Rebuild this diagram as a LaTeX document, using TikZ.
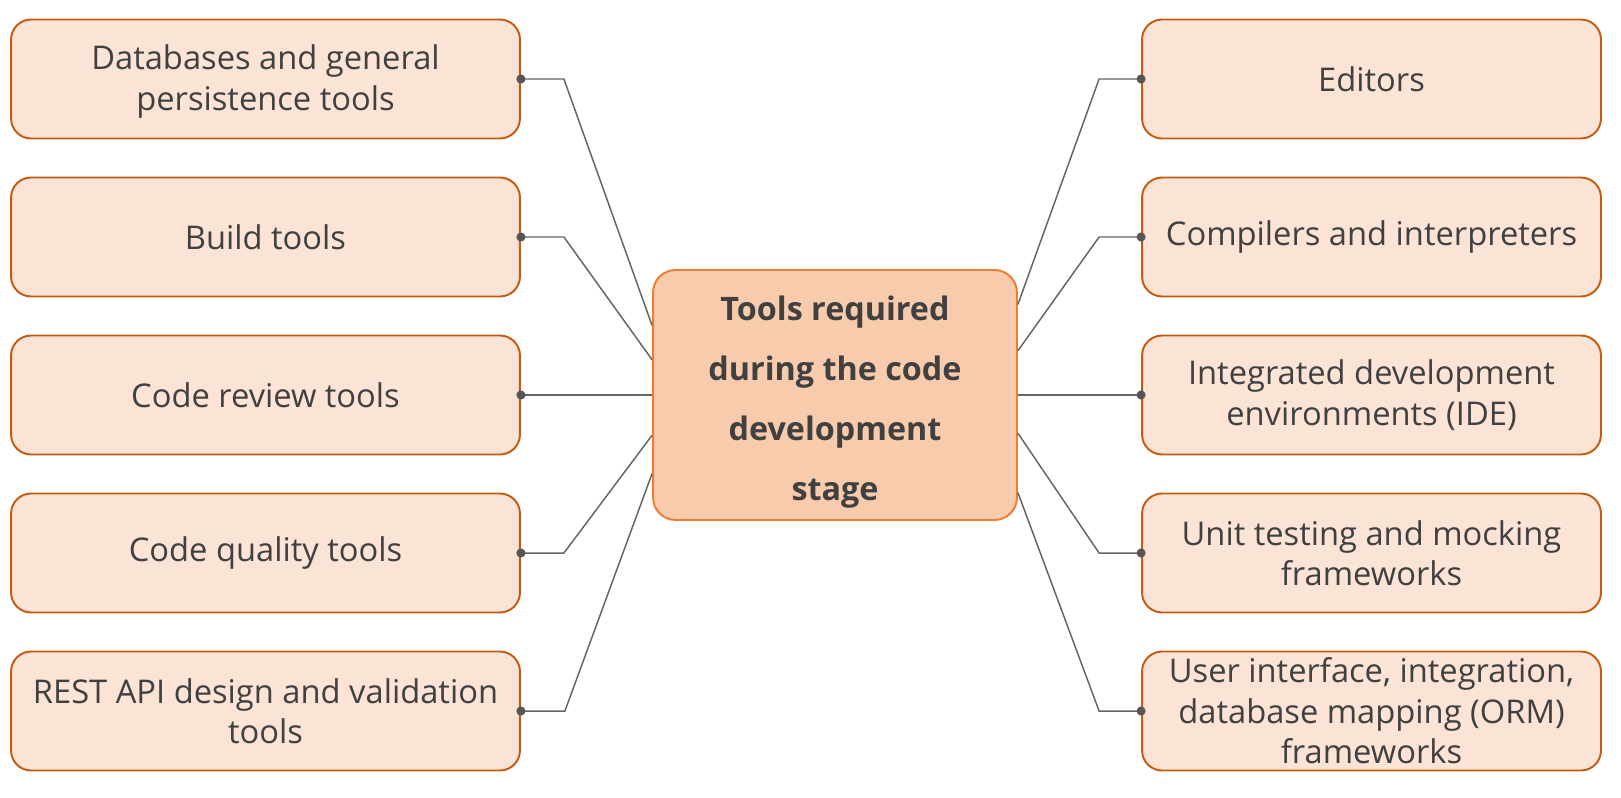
\documentclass[tikz,border=0pt]{standalone}
\usepackage{fontspec}
\setmainfont{Open Sans}
\usetikzlibrary{positioning}
\usetikzlibrary{calc}

\definecolor{leaffill}{HTML}{FBE3D5}
\definecolor{leafline}{HTML}{C55A11}
\definecolor{hubfill}{HTML}{F8CBAD}
\definecolor{hubline}{HTML}{ED7D31}
\definecolor{inktext}{HTML}{404040}
\definecolor{linkgray}{HTML}{666666}
\definecolor{dotgray}{HTML}{555555}

\begin{document}
\begin{tikzpicture}[x=0.02cm,y=-0.02cm,
% Boxes style
    leaf/.style={rectangle,rounded corners=0.4cm,draw=leafline,line width=1.1pt,
		fill=leaffill,text=inktext,align=center,
		font=\fontsize{18.6}{23}\selectfont,minimum height=2.38cm,inner sep=0pt},
    leftleaf/.style={leaf,minimum width=10.18cm},
    rightleaf/.style={leaf,minimum width=9.18cm},
    hub/.style={rectangle,rounded corners=0.45cm,draw=hubline,line width=1.1pt,
		fill=hubfill,text=inktext,align=center,
		font=\fontsize{18.4}{34}\selectfont\bfseries,
		minimum width=7.28cm,minimum height=5cm,inner sep=0pt},
% Connector style
    link/.style={draw=linkgray,line width=0.85pt},
    knob/.style={fill=dotgray}
    ]
  \useasboundingbox (0,0) rectangle (1621,797);

  \node (ctr) [hub] at (835,395) {\rule{0pt}{22pt}Tools required\\during the code\\development\\stage};

  \node (l1) [leftleaf] at (265.5,79) {\rule{0pt}{17pt}Databases and general\\persistence tools};
  \node (l2) [leftleaf] at (265.5,237) {Build tools};
  \node (l3) [leftleaf] at (265.5,395) {Code review tools};
  \node (l4) [leftleaf] at (265.5,553) {Code quality tools};
  \node (l5) [leftleaf] at (265.5,711) {REST API design and validation\\tools};

  \node (r1) [rightleaf] at (1371.5,79) {Editors};
  \node (r2) [rightleaf] at (1371.5,237) {Compilers and interpreters};
  \node (r3) [rightleaf] at (1371.5,395) {Integrated development\\environments (IDE)};
  \node (r4) [rightleaf] at (1371.5,553) {Unit testing and mocking\\frameworks};
  \node (r5) [rightleaf] at (1371.5,711) {User interface, integration,\\database mapping (ORM)\\frameworks};

% left side links
\draw[link] (l1.east) -- ++(43,0) -- ($(ctr.north west)!0.224!(ctr.south west)$);
\draw[link] (l2.east) -- ++(43,0) -- ($(ctr.north west)!0.36!(ctr.south west)$);
\draw[link] (l3.east) -- (ctr.west);
\draw[link] (l4.east) -- ++(43,0) -- ($(ctr.north west)!0.66!(ctr.south west)$);
\draw[link] (l5.east) -- ++(44,0) -- ($(ctr.north west)!0.812!(ctr.south west)$);
% right side links
\draw[link] (r1.west) -- ++(-42,0) -- ($(ctr.north east)!0.14!(ctr.south east)$);
\draw[link] (r2.west) -- ++(-42,0) -- ($(ctr.north east)!0.324!(ctr.south east)$);
\draw[link] (r3.west) -- (ctr.east);
\draw[link] (r4.west) -- ++(-42,0) -- ($(ctr.north east)!0.652!(ctr.south east)$);
\draw[link] (r5.west) -- ++(-42,0) -- ($(ctr.north east)!0.888!(ctr.south east)$);
% dots
\fill[knob] (l1.east) circle (2.6pt);
\fill[knob] (l2.east) circle (2.6pt);
\fill[knob] (l3.east) circle (2.6pt);
\fill[knob] (l4.east) circle (2.6pt);
\fill[knob] (l5.east) circle (2.6pt);
\fill[knob] (r1.west) circle (2.6pt);
\fill[knob] (r2.west) circle (2.6pt);
\fill[knob] (r3.west) circle (2.6pt);
\fill[knob] (r4.west) circle (2.6pt);
\fill[knob] (r5.west) circle (2.6pt);

\end{tikzpicture}
\end{document}
